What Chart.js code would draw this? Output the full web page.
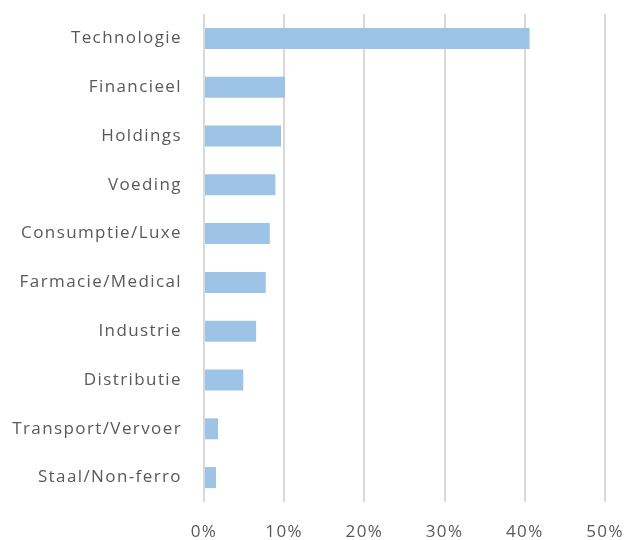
<!DOCTYPE html>
<html>
<head>
<meta charset="utf-8">
<script src="https://cdn.jsdelivr.net/npm/chart.js@4/dist/chart.umd.min.js"></script>
<style>
  html, body { margin: 0; padding: 0; background: #fff; }
  #wrap { width: 629px; height: 540px; }
</style>
</head>
<body>
<div id="wrap"><canvas id="sectorChart" width="629" height="540"></canvas></div>
<script>
// sectoren, van boven naar beneden
var sectoren = ['Technologie', 'Financieel', 'Holdings', 'Voeding', 'Consumptie/Luxe',
                'Farmacie/Medical', 'Industrie', 'Distributie', 'Transport/Vervoer', 'Staal/Non-ferro'];
// aandeel in procent
var aandeel = [40.6, 10.1, 9.6, 8.9, 8.2, 7.7, 6.5, 4.9, 1.75, 1.5];
var xTicks = [0, 10, 20, 30, 40, 50];

var tekstKleur = '#595959';
var font = { family: "'Open Sans', sans-serif", size: 17 };

// ruimere letters, zoals in het origineel
var spatiering = {
    id: 'spatiering',
    beforeDraw: function (chart) { chart.ctx.letterSpacing = '1.4px'; }
};

var ctx = document.getElementById('sectorChart').getContext('2d');
var chart = new Chart(ctx, {
    type: 'bar',
    data: {
        labels: sectoren,
        datasets: [{
            data: aandeel,
            backgroundColor: '#9dc3e6',
            borderWidth: 0,
            barPercentage: 0.43,
            categoryPercentage: 1
        }]
    },
    plugins: [spatiering],
    options: {
        indexAxis: 'y',
        responsive: false,
        animation: false,
        layout: { padding: { top: 14, right: 24, bottom: 0, left: 0 } },
        plugins: { legend: { display: false }, tooltip: { enabled: false } },
        scales: {
            x: {
                min: 0,
                max: 50,
                afterBuildTicks: function (axis) {
                    axis.ticks = xTicks.map(function (v) { return { value: v }; });
                },
                grid: { color: '#d9d9d9', lineWidth: 2, drawTicks: false },
                border: { display: false },
                ticks: {
                    color: tekstKleur,
                    font: font,
                    padding: 20,
                    callback: function (v) { return v + '%'; }
                },
                afterFit: function (axis) {
                    axis.height = 38;
                    axis.paddingLeft = 0;
                    axis.paddingRight = 0;
                }
            },
            y: {
                grid: { display: false },
                border: { display: false },
                ticks: { color: tekstKleur, font: font, padding: 14 },
                afterFit: function (axis) {
                    axis.width = 204;
                    axis.paddingTop = 0;
                    axis.paddingBottom = 0;
                }
            }
        }
    }
});
</script>
</body>
</html>
